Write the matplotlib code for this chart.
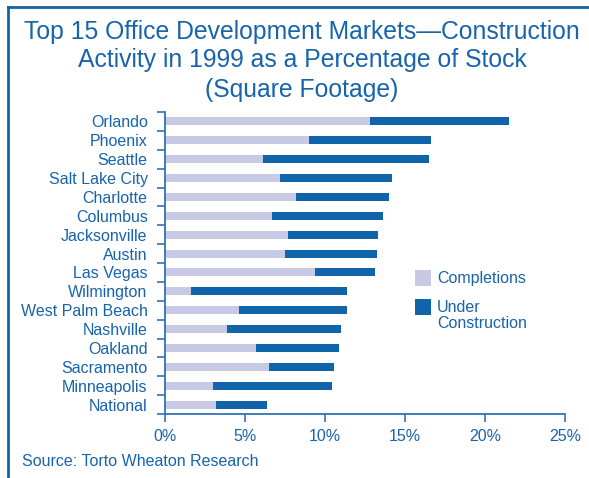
import matplotlib
matplotlib.use("Agg")
import matplotlib.pyplot as plt
from matplotlib.patches import Rectangle
from matplotlib.lines import Line2D
from matplotlib.ticker import FixedLocator, FuncFormatter
import numpy as np

plt.rcParams['font.family'] = ['Liberation Sans', 'DejaVu Sans']

cities = ["Orlando", "Phoenix", "Seattle", "Salt Lake City", "Charlotte", "Columbus",
          "Jacksonville", "Austin", "Las Vegas", "Wilmington", "West Palm Beach",
          "Nashville", "Oakland", "Sacramento", "Minneapolis", "National"]
completions = [12.8, 9.0, 6.1, 7.2, 8.2, 6.7, 7.7, 7.5, 9.4, 1.6, 4.6, 3.9, 5.7, 6.5, 3.0, 3.2]
under_construction = [8.7, 7.6, 10.4, 7.0, 5.8, 6.9, 5.6, 5.75, 3.7, 9.75, 6.75, 7.1, 5.2, 4.05, 7.45, 3.2]
x_ticks = [0, 5, 10, 15, 20, 25]

title_lines = ["Top 15 Office Development Markets\u2014Construction",
               "Activity in 1999 as a Percentage of Stock",
               "(Square Footage)"]
legend_labels = ["Completions", "Under\nConstruction"]
source = "Source: Torto Wheaton Research"

TEXT = "#1763ac"
DARK = "#1064aa"
LIGHT = "#c8cae5"
AXC = "#2f74b8"
FS = 11.5

W, H = 589, 478
fig = plt.figure(figsize=(W / 100, H / 100), dpi=100)
fig.patch.set_facecolor("white")

def fx(px):
    return px / W

def fy(py):
    return 1 - py / H

ax = fig.add_axes([fx(165), fy(414), fx(565) - fx(165), fy(112) - fy(414)])
y = np.arange(len(cities))
ax.barh(y, completions, height=0.42, color=LIGHT, linewidth=0)
ax.barh(y, under_construction, left=completions, height=0.42, color=DARK, linewidth=0)

ax.set_xlim(0, 25)
ax.set_ylim(len(cities) - 0.5, -0.5)

for s in ["top", "right"]:
    ax.spines[s].set_visible(False)
for s in ["left", "bottom"]:
    ax.spines[s].set_color(AXC)
    ax.spines[s].set_linewidth(1.3)

ax.set_xticks(x_ticks)
ax.xaxis.set_major_formatter(FuncFormatter(lambda v, p: f"{int(v)}%"))
ax.tick_params(axis="x", direction="out", length=5.5, width=1.2, color=AXC,
               labelcolor=TEXT, labelsize=FS, pad=5.5)

ax.set_yticks(y)
ax.set_yticklabels(cities)
ax.tick_params(axis="y", which="major", length=0, pad=12.5, labelcolor=TEXT, labelsize=FS)
ax.yaxis.set_minor_locator(FixedLocator(np.arange(-0.5, len(cities), 1.0)))
ax.tick_params(axis="y", which="minor", direction="out", length=6, width=1.2, color=AXC)

# Title
for line, by in zip(title_lines, [39.5, 67.5, 96.5]):
    fig.text(fx(302), fy(by), line, ha="center", va="baseline", fontsize=17.8, color=TEXT)

# Legend (manual)
fig.patches.append(Rectangle((fx(415), fy(286)), fx(16), fy(270) - fy(286),
                             transform=fig.transFigure, facecolor=LIGHT, edgecolor="none"))
fig.patches.append(Rectangle((fx(415), fy(315)), fx(16), fy(299) - fy(315),
                             transform=fig.transFigure, facecolor=DARK, edgecolor="none"))
fig.text(fx(437), fy(278), legend_labels[0], ha="left", va="center", fontsize=FS, color=TEXT)
fig.text(fx(437), fy(300), legend_labels[1], ha="left", va="top", fontsize=FS, color=TEXT,
         linespacing=1.1)

# Source
fig.text(fx(22), fy(462), source, ha="left", va="center", fontsize=FS, color=TEXT)

# Frame lines
fig.add_artist(Line2D([fx(8), 1], [fy(7), fy(7)], transform=fig.transFigure, color=DARK, lw=2))
fig.add_artist(Line2D([fx(8), fx(8)], [fy(7), 0], transform=fig.transFigure, color=DARK, lw=2))

fig.savefig("out.png", dpi=100, facecolor="white")
